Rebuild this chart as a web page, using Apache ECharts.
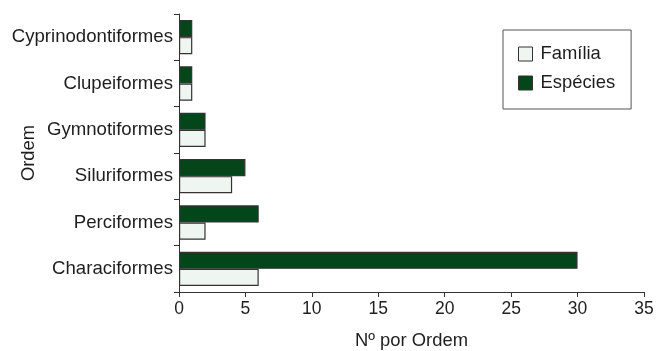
<!DOCTYPE html>
<html><head><meta charset="utf-8">
<script src="https://cdn.jsdelivr.net/npm/echarts@6/dist/echarts.min.js"></script>
<style>html,body{margin:0;padding:0;background:#fff}#c{width:665px;height:351px}</style>
</head><body><div id="c"></div>
<script>
const categories = ['Characiformes','Perciformes','Siluriformes','Gymnotiformes','Clupeiformes','Cyprinodontiformes'];
const familia = [6, 2, 4, 2, 1, 1];
const especies = [30, 6, 5, 2, 1, 1];
const xTicks = [0, 35, 5];

const font = 'Liberation Sans, Arial, sans-serif';
const chart = echarts.init(document.getElementById('c'), null, {renderer: 'canvas'});
chart.setOption({
  animation: false,
  textStyle: {fontFamily: font},
  grid: {left: 179, right: 21, top: 14, bottom: 59, containLabel: false, outerBoundsMode: 'none'},
  legend: {
    orient: 'vertical', left: 503, top: 30,
    padding: [15, 16, 17, 15], itemGap: 11,
    itemWidth: 14, itemHeight: 14,
    borderColor: '#555', borderWidth: 1, borderRadius: 0,
    textStyle: {fontSize: 18.4, lineHeight: 18, color: '#1e1e1e', fontFamily: font, padding: [0, 0, 0, 3]},
    data: [
      {name: 'Família', icon: 'rect', itemStyle: {color: '#eff6f1', borderColor: '#333', borderWidth: 1}},
      {name: 'Espécies', icon: 'rect', itemStyle: {color: '#03461a', borderColor: '#333', borderWidth: 1}}
    ]
  },
  xAxis: {
    type: 'value', min: xTicks[0], max: xTicks[1], interval: xTicks[2],
    name: 'Nº por Ordem', nameLocation: 'middle', nameGap: 40,
    nameTextStyle: {fontSize: 18.4, color: '#1e1e1e', fontFamily: font},
    axisLine: {show: true, lineStyle: {color: '#333', width: 1}},
    axisTick: {show: true, length: 5, lineStyle: {color: '#333'}},
    axisLabel: {fontSize: 17.5, color: '#1e1e1e', margin: 8, fontFamily: font},
    splitLine: {show: false}
  },
  yAxis: {
    type: 'category', data: categories,
    name: 'Ordem', nameLocation: 'middle', nameGap: 141, nameMoveOverlap: false,
    nameTextStyle: {fontSize: 18.4, color: '#1e1e1e', fontFamily: font},
    axisLine: {show: true, lineStyle: {color: '#333', width: 1}},
    axisTick: {show: true, length: 5, lineStyle: {color: '#333'}},
    axisLabel: {fontSize: 18.6, color: '#1e1e1e', margin: 6, fontFamily: font}
  },
  series: [
    {name: 'Espécies', type: 'bar', data: especies, barGap: '0%', barCategoryGap: '26%',
     itemStyle: {color: '#03461a', borderColor: '#333', borderWidth: 1.2}},
    {name: 'Família', type: 'bar', data: familia, barGap: '0%', barCategoryGap: '26%',
     itemStyle: {color: '#eff6f1', borderColor: '#333', borderWidth: 1.2}}
  ]
});
</script></body></html>
